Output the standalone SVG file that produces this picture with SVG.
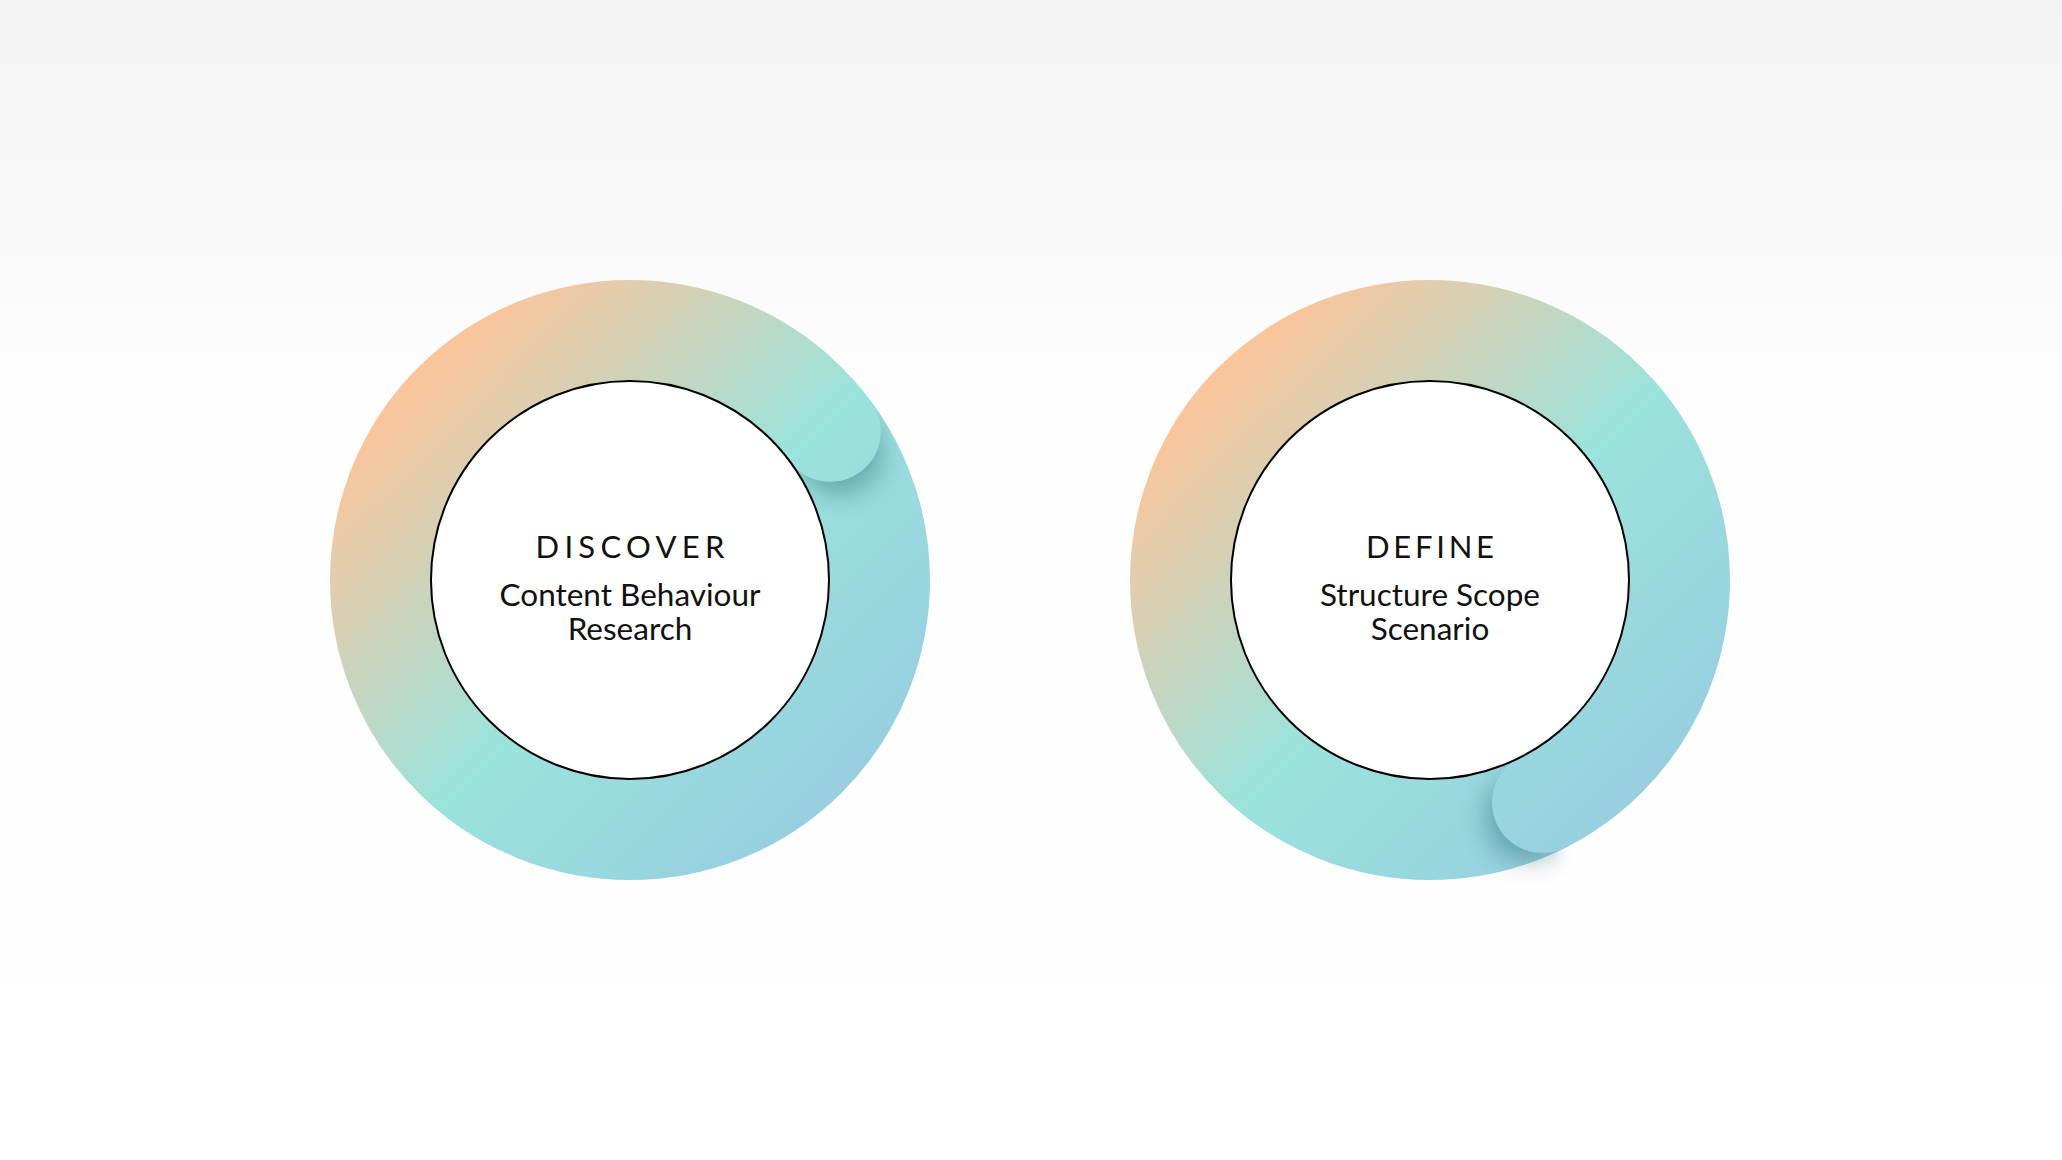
<svg xmlns="http://www.w3.org/2000/svg" xmlns:xlink="http://www.w3.org/1999/xlink" width="2062" height="1160" viewBox="0 0 2062 1160">
  <defs>
    <linearGradient id="bg" x1="0" y1="0" x2="0" y2="1">
      <stop offset="0" stop-color="#f3f3f3"/>
      <stop offset="0.36" stop-color="#fefefe"/>
      <stop offset="1" stop-color="#ffffff"/>
    </linearGradient>
    <linearGradient id="ringA" gradientUnits="userSpaceOnUse" x1="330" y1="280" x2="930" y2="880">
      <stop offset="0.15" stop-color="#fcc49a"/>
      <stop offset="0.53" stop-color="#9be3dc"/>
      <stop offset="0.95" stop-color="#96c9e1"/>
    </linearGradient>
    <linearGradient id="ringB" xlink:href="#ringA" href="#ringA" gradientUnits="userSpaceOnUse" x1="1130" y1="280" x2="1730" y2="880"/>
    <linearGradient id="fadeA" gradientUnits="userSpaceOnUse" x1="827.9" y1="428.1" x2="838.6" y2="442.5">
      <stop offset="0" stop-color="#000"/>
      <stop offset="1" stop-color="#fff"/>
    </linearGradient>
    <linearGradient id="fadeB" gradientUnits="userSpaceOnUse" x1="1546.1" y1="800.8" x2="1530.0" y2="808.9">
      <stop offset="0" stop-color="#000"/>
      <stop offset="1" stop-color="#fff"/>
    </linearGradient>
    <mask id="aheadA" maskUnits="userSpaceOnUse" x="0" y="0" width="2062" height="1160">
      <rect x="0" y="0" width="2062" height="1160" fill="url(#fadeA)"/>
    </mask>
    <mask id="aheadB" maskUnits="userSpaceOnUse" x="0" y="0" width="2062" height="1160">
      <rect x="0" y="0" width="2062" height="1160" fill="url(#fadeB)"/>
    </mask>
    <clipPath id="ringClipA">
      <circle cx="630" cy="580" r="300"/>
    </clipPath>
    <filter id="soft" x="-100%" y="-100%" width="300%" height="300%">
      <feGaussianBlur stdDeviation="13"/>
    </filter>
    <style>
      .inner { fill: #ffffff; stroke: #000000; stroke-width: 2; }
      .shadow { fill: #1d5c6b; opacity: 0.4; filter: url(#soft); }
      .title { font-family: "Lato", "Noto Sans", sans-serif; font-size: 31px; fill: #111111; text-anchor: middle; }
      .body { font-family: "Lato", "Noto Sans", sans-serif; font-size: 31.5px; fill: #111111; text-anchor: middle; }
    </style>
  </defs>

  <rect x="0" y="0" width="2062" height="1160" fill="url(#bg)"/>

  <g id="connectors"></g>

  <g id="node-discover">
    <circle cx="630" cy="580" r="249.5" fill="none" stroke="url(#ringA)" stroke-width="101"/>
    <g clip-path="url(#ringClipA)">
      <g mask="url(#aheadA)">
        <circle class="shadow" cx="839" cy="451" r="44"/>
      </g>
    </g>
    <circle cx="830.3" cy="431.3" r="50.5" fill="url(#ringA)"/>
    <circle class="inner" cx="630" cy="580" r="199"/>
    <text class="title" x="630" y="557.5" textLength="189" lengthAdjust="spacing">DISCOVER</text>
    <text class="body" x="630" y="605.5">Content Behaviour</text>
    <text class="body" x="630" y="639.5">Research</text>
  </g>

  <g id="node-define">
    <circle cx="1430" cy="580" r="249.5" fill="none" stroke="url(#ringB)" stroke-width="101"/>
    <g mask="url(#aheadB)">
      <circle class="shadow" cx="1529" cy="817" r="44"/>
    </g>
    <circle cx="1542.5" cy="802.6" r="50.5" fill="url(#ringB)"/>
    <circle class="inner" cx="1430" cy="580" r="199"/>
    <text class="title" x="1430" y="557.5" textLength="128" lengthAdjust="spacing">DEFINE</text>
    <text class="body" x="1430" y="605.5">Structure Scope</text>
    <text class="body" x="1430" y="639.5">Scenario</text>
  </g>
</svg>
